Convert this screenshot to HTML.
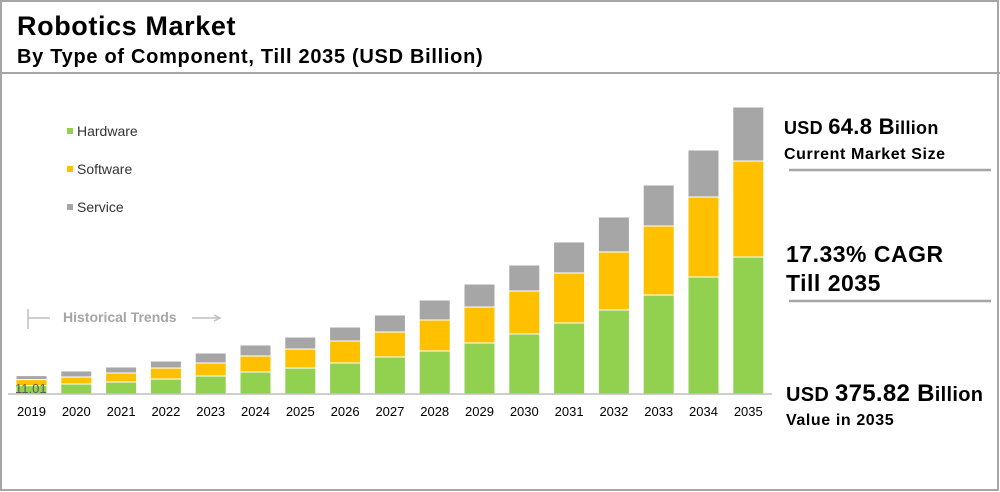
<!DOCTYPE html>
<html><head><meta charset="utf-8"><style>
body{margin:0;background:#fff;font-family:"Liberation Sans",Arial,sans-serif}
svg{display:block}
</style></head><body>
<svg id="chart" width="1000" height="492" font-family="Liberation Sans, Arial, sans-serif">
<rect x="1" y="1" width="997" height="489" fill="#fff" stroke="#a6a6a6" stroke-width="2"/>
<line x1="0" y1="73" x2="1000" y2="73" stroke="#a6a6a6" stroke-width="2"/>
<text x="17" y="35" font-size="27" font-weight="bold" fill="#000" letter-spacing="0.6">Robotics Market</text>
<text x="17" y="63" font-size="20" font-weight="bold" fill="#000" letter-spacing="0.7">By Type of Component, Till 2035 (USD Billion)</text>
<g>
<rect x="67" y="128" width="6" height="6" fill="#92d050"/>
<text x="77" y="136" font-size="14" fill="#333">Hardware</text>
<rect x="67" y="166" width="6" height="6" fill="#ffc000"/>
<text x="77" y="174" font-size="14" fill="#333">Software</text>
<rect x="67" y="204" width="6" height="6" fill="#a6a6a6"/>
<text x="77" y="212" font-size="14" fill="#333">Service</text>
</g>
<g>
<line x1="28" y1="309" x2="28" y2="329" stroke="#bfbfbf" stroke-width="1.5"/>
<line x1="28" y1="318" x2="50" y2="318" stroke="#bfbfbf" stroke-width="1.5"/>
<text x="63" y="322" font-size="14" font-weight="bold" fill="#a6a6a6">Historical Trends</text>
<line x1="192" y1="318" x2="218" y2="318" stroke="#bfbfbf" stroke-width="1.5"/>
<path d="M214,315 L220,318 L214,321" fill="none" stroke="#bfbfbf" stroke-width="1.5"/>
</g>
<g id="bars"></g>
<line x1="8" y1="394" x2="772" y2="394" stroke="#bfbfbf" stroke-width="1.5"/>
<g id="xlabels"></g>
<text x="15" y="393" font-size="13" fill="#595959">11.01</text>
<g>
<text x="784" y="134" font-size="18" font-weight="bold" fill="#000" letter-spacing="0.3">USD <tspan font-size="22">64.8 B</tspan>illion</text>
<text x="784" y="159" font-size="16" font-weight="bold" fill="#000" letter-spacing="0.6">Current Market Size</text>
<line x1="789" y1="170" x2="991" y2="170" stroke="#a6a6a6" stroke-width="2.5"/>
<text x="786" y="262" font-size="23" font-weight="bold" fill="#000" letter-spacing="0.5">17.33% CAGR</text>
<text x="786" y="291" font-size="23" font-weight="bold" fill="#000" letter-spacing="0.5">Till 2035</text>
<line x1="789" y1="301" x2="991" y2="301" stroke="#a6a6a6" stroke-width="2.5"/>
<text x="786" y="401" font-size="20" font-weight="bold" fill="#000" letter-spacing="0.3">USD <tspan font-size="24">375.82 B</tspan>illion</text>
<text x="786" y="425" font-size="16" font-weight="bold" fill="#000" letter-spacing="0.6">Value in 2035</text>
</g>
</svg>
<script>
const years = ["2019","2020","2021","2022","2023","2024","2025","2026","2027","2028","2029","2030","2031","2032","2033","2034","2035"];
const hardware = [11.0,13.1,15.7,19.6,23.6,28.8,34.0,40.6,48.5,56.3,66.8,78.6,93.0,110.0,129.6,153.2,179.4];
const software = [7.9,9.2,11.8,14.4,17.0,21.0,24.9,28.8,32.7,40.6,47.1,56.3,65.5,76.0,90.4,104.8,125.7];
const service = [5.2,7.9,7.9,9.2,13.1,14.4,15.7,18.3,22.3,26.2,30.1,34.0,40.6,45.8,53.7,61.5,70.7];

const NS = "http://www.w3.org/2000/svg";
const baseY = 394, pxPerUnit = 287/375.82, x0 = 16, step = 44.8, bw = 31;
const xPos = i => x0 + i*step;
const yLen = v => v*pxPerUnit;
const bars = document.getElementById('bars');
const xl = document.getElementById('xlabels');
const series = [[hardware,'#92d050','hardware'],[software,'#ffc000','software'],[service,'#a6a6a6','service']];
years.forEach((yr,i)=>{
  let acc = 0;
  series.forEach(([arr,col,nm])=>{
    const h = yLen(arr[i]);
    const r = document.createElementNS(NS,'rect');
    r.setAttribute('x', xPos(i));
    r.setAttribute('y', baseY - yLen(acc) - h);
    r.setAttribute('width', bw);
    r.setAttribute('height', h);
    r.setAttribute('fill', col);
    r.setAttribute('stroke', '#fff');
    r.setAttribute('stroke-width', '1');
    
    
    bars.appendChild(r);
    acc += arr[i];
  });
  const t = document.createElementNS(NS,'text');
  t.setAttribute('x', xPos(i) + bw/2);
  t.setAttribute('y', 416);
  t.setAttribute('text-anchor','middle');
  t.setAttribute('font-size','13');
  t.setAttribute('fill','#000');
  t.textContent = yr;
  
  
  xl.appendChild(t);
});
</script>
</body></html>
